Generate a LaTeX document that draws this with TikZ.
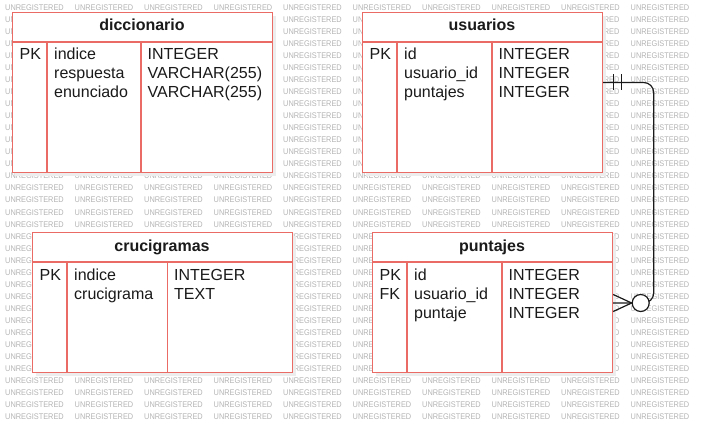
\documentclass[tikz,border=0pt]{standalone}
\usepackage{fontspec}
\setmainfont{Liberation Sans}
\usetikzlibrary{shadows}
\definecolor{erred}{RGB}{234,107,102}
\definecolor{ink}{RGB}{26,26,26}
\definecolor{wmgray}{RGB}{180,180,180}
\tikzset{
  erbox/.style={draw=erred,fill=white,line width=1.2pt,inner sep=0pt,anchor=north west,
    drop shadow={fill=black!7,opacity=1,shadow xshift=3pt,shadow yshift=-3pt}},
  erline/.style={draw=erred,line width=1.2pt},
  erhead/.style={font=\fontsize{16}{19}\selectfont\bfseries,text=ink,anchor=base,inner sep=0pt},
  erfield/.style={font=\fontsize{16}{19}\selectfont,text=ink,anchor=base west,inner sep=0pt},
  wmark/.style={font=\fontsize{8.2}{9}\selectfont,text=wmgray,inner sep=0pt,xscale=0.9},
  relline/.style={draw=ink,line width=1.2pt},
}
% watermark word (or the part of it left visible beside a table)
\newcommand\wmnode[3]{\node[wmark,anchor=#2] (wm-\r-\c) at ({5+69.5*\c+#3},{7.5+12.04*\r}) {#1};}
\begin{document}
\begin{tikzpicture}[x=1pt,y=-1pt]
  \useasboundingbox[fill=white] (0,0) rectangle (703,422);
  % watermark
  \foreach \r in {0,...,34}{
    \foreach \c in {0,...,9}{
      \pgfmathtruncatemacro{\band}{and(\r>=1,\r<=13)+2*and(\r>=19,\r<=30)}
      \ifcase\band
        \wmnode{UNREGISTERED}{west}{0}
      \or
        \ifcase\c \wmnode{UN}{west}{0}\or\or\or\or \wmnode{UNREGISTERED}{west}{0}
        \or \wmnode{UN}{west}{0}\or\or\or \wmnode{ERED}{east}{58.6}\or \wmnode{UNREGISTERED}{west}{0}\fi
      \or
        \ifcase\c \wmnode{UNREGI}{west}{0}\or\or\or\or \wmnode{UNREGISTERED}{west}{0}
        \or \wmnode{UNRE}{west}{0}\or\or\or \wmnode{ED}{east}{58.6}\or \wmnode{UNREGISTERED}{west}{0}\fi
      \fi
    }
  }
  % diccionario
  \node[erbox,minimum width=260pt,minimum height=160pt] (dicc) at (12,12) {};
  \draw[erline] ([yshift=-30pt]dicc.north west) -- ([yshift=-30pt]dicc.north east);
  \draw[erline] ([xshift=35pt,yshift=-30pt]dicc.north west) -- ([xshift=35pt]dicc.south west);
  \draw[erline] ([xshift=129pt,yshift=-30pt]dicc.north west) -- ([xshift=129pt]dicc.south west);
  \node[erhead] (dicc-t) at (142,31) {diccionario};
  \node[erfield] (dicc-k1) at (19.5,60) {PK};
  \node[erfield] (dicc-n1) at (54,60) {indice};
  \node[erfield] (dicc-n2) at (54,79) {respuesta};
  \node[erfield] (dicc-n3) at (54,98) {enunciado};
  \node[erfield] (dicc-y1) at (147.5,60) {INTEGER};
  \node[erfield] (dicc-y2) at (147.5,79) {VARCHAR(255)};
  \node[erfield] (dicc-y3) at (147.5,98) {VARCHAR(255)};
  % usuarios
  \node[erbox,minimum width=240pt,minimum height=160pt] (usr) at (362,12) {};
  \draw[erline] ([yshift=-30pt]usr.north west) -- ([yshift=-30pt]usr.north east);
  \draw[erline] ([xshift=35pt,yshift=-30pt]usr.north west) -- ([xshift=35pt]usr.south west);
  \draw[erline] ([xshift=130pt,yshift=-30pt]usr.north west) -- ([xshift=130pt]usr.south west);
  \node[erhead] (usr-t) at (482,31) {usuarios};
  \node[erfield] (usr-k1) at (369.5,60) {PK};
  \node[erfield] (usr-n1) at (404,60) {id};
  \node[erfield] (usr-n2) at (404,79) {usuario\_id};
  \node[erfield] (usr-n3) at (404,98) {puntajes};
  \node[erfield] (usr-y1) at (498.5,60) {INTEGER};
  \node[erfield] (usr-y2) at (498.5,79) {INTEGER};
  \node[erfield] (usr-y3) at (498.5,98) {INTEGER};
  % crucigramas
  \node[erbox,minimum width=260pt,minimum height=140pt] (cru) at (32,232) {};
  \draw[erline] ([yshift=-30pt]cru.north west) -- ([yshift=-30pt]cru.north east);
  \draw[erline] ([xshift=35pt,yshift=-30pt]cru.north west) -- ([xshift=35pt]cru.south west);
  \draw[erline] ([xshift=135.5pt,yshift=-30pt]cru.north west) -- ([xshift=135.5pt]cru.south west);
  \node[erhead] (cru-t) at (162,251) {crucigramas};
  \node[erfield] (cru-k1) at (39.5,280) {PK};
  \node[erfield] (cru-n1) at (74,280) {indice};
  \node[erfield] (cru-n2) at (74,299) {crucigrama};
  \node[erfield] (cru-y1) at (174,280) {INTEGER};
  \node[erfield] (cru-y2) at (174,299) {TEXT};
  % puntajes
  \node[erbox,minimum width=240pt,minimum height=140pt] (pts) at (372,232) {};
  \draw[erline] ([yshift=-30pt]pts.north west) -- ([yshift=-30pt]pts.north east);
  \draw[erline] ([xshift=35pt,yshift=-30pt]pts.north west) -- ([xshift=35pt]pts.south west);
  \draw[erline] ([xshift=130pt,yshift=-30pt]pts.north west) -- ([xshift=130pt]pts.south west);
  \node[erhead] (pts-t) at (492,251) {puntajes};
  \node[erfield] (pts-k1) at (379.5,280) {PK};
  \node[erfield] (pts-k2) at (379.5,299) {FK};
  \node[erfield] (pts-n1) at (414,280) {id};
  \node[erfield] (pts-n2) at (414,299) {usuario\_id};
  \node[erfield] (pts-n3) at (414,318) {puntaje};
  \node[erfield] (pts-y1) at (508.5,280) {INTEGER};
  \node[erfield] (pts-y2) at (508.5,299) {INTEGER};
  \node[erfield] (pts-y3) at (508.5,318) {INTEGER};
  % relationship usuarios (one) -- puntajes (zero or many)
  \coordinate (rel-a) at ([yshift=-70.5pt]usr.north east);
  \coordinate (rel-b) at ([yshift=-71pt]pts.north east);
  \draw[relline,rounded corners=10pt] (rel-a) -- ++(50.5,0) |- (rel-b);
  \draw[relline] ([xshift=10pt,yshift=8pt]rel-a) -- ([xshift=10pt,yshift=-8pt]rel-a);
  \draw[relline] ([xshift=18pt,yshift=8pt]rel-a) -- ([xshift=18pt,yshift=-8pt]rel-a);
  \node[circle,draw=ink,fill=white,line width=1.2pt,minimum size=17pt,inner sep=0pt] (zero) at ([xshift=27.5pt]rel-b) {};
  \draw[relline] ([yshift=8.5pt]rel-b) -- (zero.west) -- ([yshift=-8.5pt]rel-b);
\end{tikzpicture}
\end{document}
